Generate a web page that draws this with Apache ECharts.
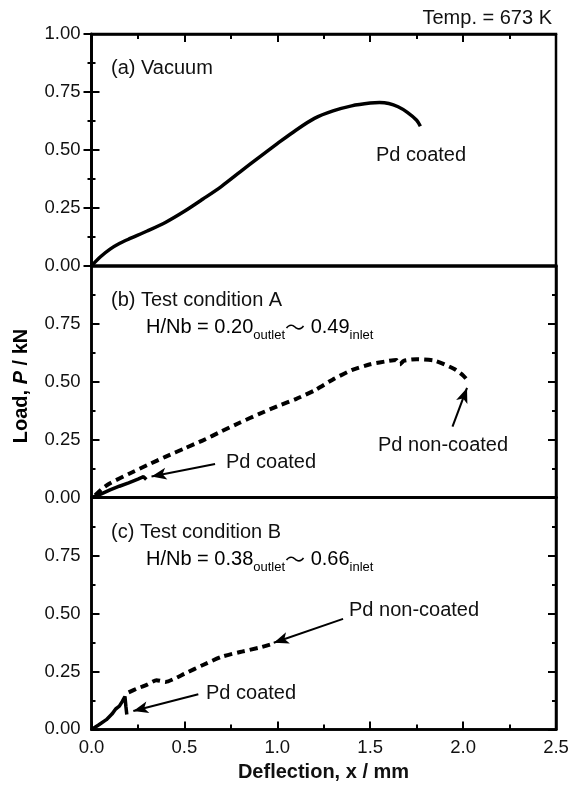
<!DOCTYPE html>
<html>
<head>
<meta charset="utf-8">
<script src="https://cdn.jsdelivr.net/npm/echarts@6/dist/echarts.min.js"></script>
<style>
  html, body { margin: 0; padding: 0; background: #fff; }
  #chart { width: 570px; height: 786px; }
</style>
</head>
<body>
<div id="chart"></div>
<script>
// deflection (mm), load (kN)
const vacuumA = [[0,0],[0.05,0.04],[0.1,0.072],[0.15,0.096],[0.2,0.115],[0.3,0.15],[0.4,0.188],
  [0.5,0.235],[0.6,0.288],[0.7,0.343],[0.8,0.405],[0.9,0.467],[1.0,0.527],[1.1,0.585],
  [1.2,0.636],[1.3,0.668],[1.4,0.69],[1.5,0.702],[1.55,0.704],[1.6,0.7],[1.65,0.686],
  [1.7,0.662],[1.75,0.628],[1.77,0.602]];
const nonCoatedB = [[0.02,0.01],[0.06,0.04],[0.1,0.062],[0.2,0.102],[0.3,0.14],[0.4,0.177],
  [0.5,0.212],[0.6,0.247],[0.7,0.286],[0.8,0.324],[0.9,0.36],[1.0,0.394],[1.1,0.425],
  [1.2,0.462],[1.3,0.51],[1.4,0.55],[1.5,0.575],[1.6,0.59],[1.64,0.594],[1.66,0.574],
  [1.68,0.59],[1.75,0.597],[1.85,0.59],[1.95,0.556],[2.0,0.527],[2.03,0.5]];
const coatedB = [[0,0],[0.05,0.015],[0.1,0.033],[0.15,0.049],[0.2,0.064],[0.25,0.08],
  [0.28,0.09],[0.29,0.098],[0.295,0.078]];
const nonCoatedC = [[0.2,0.16],[0.25,0.178],[0.3,0.193],[0.35,0.212],[0.4,0.205],[0.45,0.22],
  [0.5,0.24],[0.6,0.278],[0.7,0.313],[0.8,0.334],[0.9,0.352],[0.97,0.368]];
const coatedC = [[0,0],[0.04,0.02],[0.08,0.042],[0.11,0.066],[0.13,0.088],[0.15,0.1],
  [0.165,0.12],[0.18,0.142],[0.185,0.1],[0.19,0.064]];

// annotation arrows: [tail, head] in data units
const arrowsB = [[[0.665,0.145],[0.323,0.091]], [[1.943,0.306],[2.021,0.473]]];
const arrowsC = [[[1.354,0.477],[0.981,0.374]], [[0.575,0.152],[0.225,0.079]]];

const font = 'Liberation Sans, Arial, Noto Sans CJK JP, sans-serif';
const ink = '#111';
const top0 = 34, ph = 231.8;

const chart = echarts.init(document.getElementById('chart'));

const grids = [0, 1, 2].map(i => ({
  left: 91.5, right: 14, top: top0 + i * ph, height: ph,
  outerBoundsMode: 'none', containLabel: false,
  show: true, borderColor: '#000', borderWidth: 2.5, backgroundColor: 'transparent'
}));

const yBase = (i, side) => ({
  type: 'value', gridIndex: i, min: 0, max: 1, interval: 0.25, position: side,
  axisLine: { show: true, lineStyle: { color: '#000', width: 2.5 } },
  axisTick: { show: true, inside: true, length: 8, lineStyle: { color: '#000', width: 2 } },
  minorTick: { show: true, splitNumber: 2, length: 4, lineStyle: { color: '#000', width: 2 } },
  splitLine: { show: false },
  axisLabel: {
    show: side === 'left', margin: 11, color: ink, fontSize: 18.5, fontFamily: font,
    formatter: v => (i > 0 && v === 1) ? '' : v.toFixed(2)
  }
});

const xBase = (i, pos, ticks, labels) => ({
  type: 'value', gridIndex: i, min: 0, max: 2.5, interval: 0.5, position: pos,
  axisLine: { show: true, onZero: false, lineStyle: { color: '#000', width: 2.5 } },
  axisTick: { show: ticks, inside: true, length: 8, lineStyle: { color: '#000', width: 2 } },
  minorTick: { show: ticks, splitNumber: 2, length: 5, lineStyle: { color: '#000', width: 2 } },
  splitLine: { show: false },
  axisLabel: { show: labels, margin: 9, color: ink, fontSize: 18.5, fontFamily: font,
    formatter: v => v.toFixed(1) }
});

const lineSeries = (data, xi, yi, dashed, smooth) => ({
  type: 'line', data, xAxisIndex: xi, yAxisIndex: yi, showSymbol: false, symbol: 'none',
  smooth: smooth, silent: true,
  lineStyle: { color: '#000', width: dashed ? 4 : 3.5, type: dashed ? [8, 5] : 'solid', cap: 'butt' }
});

const arrowMark = list => ({
  silent: true, symbol: ['none', 'arrow'], symbolSize: [9, 15],
  label: { show: false },
  lineStyle: { color: '#000', width: 2, type: 'solid' },
  data: list.map(a => [{ coord: a[0] }, { coord: a[1] }])
});

const txt = (x, y, text, extra) => ({
  type: 'text', x, y, silent: true,
  style: Object.assign({ text, fill: ink, font: '20px ' + font, textVerticalAlign: 'middle' }, extra || {})
});

const subRich = {
  n: { fontSize: 20, fontFamily: font, color: ink, lineHeight: 26 },
  s: { fontSize: 13, fontFamily: font, color: ink, lineHeight: 30, verticalAlign: 'bottom' },
  w: { fontSize: 20, fontFamily: 'Noto Sans CJK JP', color: ink, lineHeight: 26 }
};

const bSeriesNon = lineSeries(nonCoatedB, 1, 1, true, 0.2);
bSeriesNon.markLine = arrowMark(arrowsB);
const cSeriesNon = lineSeries(nonCoatedC, 2, 2, true, 0.2);
cSeriesNon.markLine = arrowMark(arrowsC);

chart.setOption({
  animation: false,
  backgroundColor: '#fff',
  grid: grids,
  xAxis: [xBase(0, 'bottom', false, false), xBase(1, 'bottom', false, false),
          xBase(2, 'bottom', true, true), xBase(0, 'top', true, false)],
  yAxis: [yBase(0, 'left'), yBase(1, 'left'), yBase(2, 'left'),
          yBase(0, 'right'), yBase(1, 'right'), yBase(2, 'right')],
  series: [
    lineSeries(vacuumA, 0, 0, false, 0.3),
    bSeriesNon,
    lineSeries(coatedB, 1, 1, false, false),
    cSeriesNon,
    lineSeries(coatedC, 2, 2, false, false)
  ],
  graphic: [
    txt(552, 18, 'Temp. = 673 K', { textAlign: 'right' }),
    txt(111, 68, '(a) Vacuum'),
    txt(376, 155, 'Pd coated'),
    txt(111, 300, '(b) Test condition A'),
    { type: 'text', x: 146, y: 327, silent: true,
      style: { text: '{n|H/Nb = 0.20}{s|outlet}{w|〜}{n| 0.49}{s|inlet}', rich: subRich, textVerticalAlign: 'middle' } },
    txt(378, 445, 'Pd non-coated'),
    txt(226, 462, 'Pd coated'),
    txt(111, 532, '(c) Test condition B'),
    { type: 'text', x: 146, y: 559, silent: true,
      style: { text: '{n|H/Nb = 0.38}{s|outlet}{w|〜}{n| 0.66}{s|inlet}', rich: subRich, textVerticalAlign: 'middle' } },
    txt(349, 610, 'Pd non-coated'),
    txt(206, 693, 'Pd coated'),
    { type: 'text', x: 21, y: 386, rotation: Math.PI / 2, silent: true,
      style: { text: '{b|Load, }{i|P}{b| / kN}', textAlign: 'center', textVerticalAlign: 'middle',
        rich: {
          b: { fontSize: 20, fontWeight: 'bold', fontFamily: font, color: ink },
          i: { fontSize: 20, fontWeight: 'bold', fontStyle: 'italic', fontFamily: font, color: ink }
        } } },
    txt(323.5, 772, 'Deflection, x / mm', { textAlign: 'center', font: 'bold 20px ' + font })
  ]
});
</script>
</body>
</html>
